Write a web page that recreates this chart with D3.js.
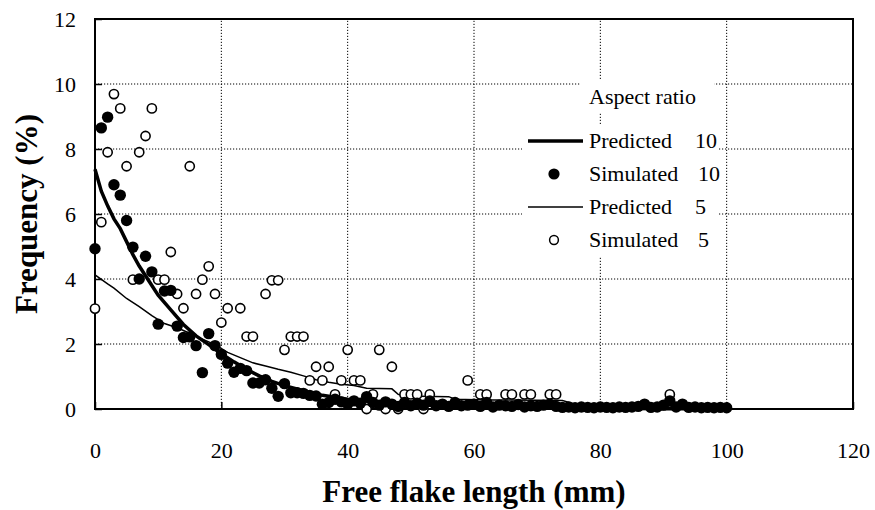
<!DOCTYPE html>
<html>
<head>
<meta charset="utf-8">
<script src="https://cdn.jsdelivr.net/npm/d3@7"></script>
<style>
  body { margin: 0; background: #fff; }
  svg, svg text { font-family: "Liberation Serif", "Times New Roman", serif !important; }
</style>
</head>
<body>
<div id="chart"></div>
<script>
// simulated, aspect ratio 10 (filled dots), x = 0..100 mm
const sim10X = d3.range(0, 101);
const sim10Y = [4.93, 8.65, 8.98, 6.9, 6.58, 5.8, 4.98, 4.0, 4.7, 4.22,
  2.61, 3.63, 3.65, 2.55, 2.2, 2.22, 1.95, 1.12, 2.32, 1.95,
  1.68, 1.41, 1.13, 1.25, 1.18, 0.8, 0.8, 0.9, 0.64, 0.39,
  0.78, 0.5, 0.5, 0.48, 0.42, 0.4, 0.15, 0.2, 0.3, 0.22,
  0.15, 0.25, 0.18, 0.38, 0.2, 0.12, 0.22, 0.15, 0.08, 0.2,
  0.1, 0.18, 0.12, 0.25, 0.1, 0.15, 0.08, 0.2, 0.1, 0.12,
  0.15, 0.08, 0.2, 0.06, 0.12, 0.1, 0.08, 0.14, 0.06, 0.1,
  0.08, 0.12, 0.15, 0.08, 0.05, 0.06, 0.04, 0.06, 0.05, 0.04,
  0.06, 0.05, 0.04, 0.06, 0.05, 0.06, 0.08, 0.15, 0.05, 0.06,
  0.12, 0.25, 0.06, 0.15, 0.05, 0.06, 0.04, 0.05, 0.04, 0.05, 0.04];

// simulated, aspect ratio 5 (open circles)
const sim5X = [0, 1, 2, 3, 4, 5, 6, 7, 8, 9, 10, 11, 12, 13, 14, 15, 16, 17, 18, 19,
  20, 21, 23, 24, 25, 27, 28, 29, 30, 31, 32, 33, 34, 35, 36, 37, 38, 39,
  40, 41, 42, 43, 44, 45, 46, 47, 48, 49, 50, 51, 52, 53, 59, 61, 62, 65, 66,
  68, 69, 72, 73, 91];
const sim5Y = [3.09, 5.75, 7.9, 9.69, 9.25, 7.47, 3.98, 7.9, 8.4, 9.25, 3.98, 3.98,
  4.83, 3.54, 3.1, 7.47, 3.54, 3.98, 4.39, 3.54,
  2.66, 3.1, 3.1, 2.23, 2.23, 3.54, 3.96, 3.96, 1.82, 2.23, 2.23, 2.23, 0.88, 1.3,
  0.88, 1.3, 0.45, 0.88,
  1.82, 0.88, 0.88, 0, 0.45, 1.82, 0, 1.3, 0, 0.45, 0.45, 0.45, 0, 0.45,
  0.88, 0.45, 0.45, 0.45, 0.45, 0.45, 0.45, 0.45, 0.45, 0.45];

// predicted curves
const pred10X = [0, 1, 2, 3, 4, 5, 6, 7, 8, 9, 10, 12, 14, 16, 18, 20, 22, 24, 26, 28,
  30, 33, 36, 40, 45, 50, 55, 60, 70, 80, 90, 100];
const pred10Y = [7.38, 6.7, 6.25, 5.85, 5.55, 5.15, 4.75, 4.4, 4.1, 3.8, 3.5, 3.05,
  2.6, 2.25, 1.98, 1.7, 1.45, 1.22, 1.02, 0.85,
  0.72, 0.56, 0.42, 0.3, 0.2, 0.14, 0.1, 0.07, 0.04, 0.02, 0.01, 0.01];

const pred5X = [0, 2, 3, 5, 7, 9, 11, 13, 15, 17, 19, 21, 23, 25, 27, 29, 31, 33, 35,
  37, 39, 41, 43, 47, 48, 49, 56, 57, 62, 74, 76, 90, 100];
const pred5Y = [4.13, 3.85, 3.72, 3.4, 3.15, 2.87, 2.63, 2.5, 2.33, 2.15, 1.98, 1.74,
  1.58, 1.42, 1.32, 1.22, 1.13, 1.02, 0.9,
  0.82, 0.76, 0.72, 0.64, 0.62, 0.45, 0.4, 0.38, 0.3, 0.28, 0.26, 0.15, 0.1, 0.05];

const xTicks = [0, 20, 40, 60, 80, 100, 120];
const yTicks = [0, 2, 4, 6, 8, 10, 12];

const legendItems = [
  { label: "Predicted", ratio: "10", type: "thick" },
  { label: "Simulated", ratio: "10", type: "filled" },
  { label: "Predicted", ratio: "5", type: "thin" },
  { label: "Simulated", ratio: "5", type: "open" }
];

function init() {
  const width = 875, height = 510;
  const margin = { left: 95, right: 22, top: 19, bottom: 101 };

  const svg = d3.select("#chart").append("svg")
    .attr("width", width)
    .attr("height", height);

  const x = d3.scaleLinear().domain([0, 120]).range([margin.left, width - margin.right]);
  const y = d3.scaleLinear().domain([0, 12]).range([height - margin.bottom, margin.top]);

  // dotted grid
  const grid = svg.append("g")
    .attr("stroke", "#000")
    .attr("stroke-width", 1)
    .attr("stroke-dasharray", "1.2,1.8");
  grid.selectAll(".gx")
    .data(xTicks.slice(1, -1))
    .join("line")
    .attr("x1", d => x(d)).attr("x2", d => x(d))
    .attr("y1", y(0)).attr("y2", y(12));
  grid.selectAll(".gy")
    .data(yTicks.slice(1, -1))
    .join("line")
    .attr("x1", x(0)).attr("x2", x(120))
    .attr("y1", d => y(d)).attr("y2", d => y(d));

  // legend backgrounds hide the grid behind them (title and entries separately)
  svg.append("rect")
    .attr("x", 580).attr("y", 80)
    .attr("width", 134).attr("height", 33)
    .attr("fill", "#fff");
  svg.append("rect")
    .attr("x", 522).attr("y", 124)
    .attr("width", 197).attr("height", 132)
    .attr("fill", "#fff");

  // axes
  const xAxis = svg.append("g")
    .attr("transform", `translate(0,${y(0)})`)
    .call(d3.axisBottom(x).tickValues(xTicks).tickSize(-7).tickPadding(33));
  const yAxis = svg.append("g")
    .attr("transform", `translate(${x(0)},0)`)
    .call(d3.axisLeft(y).tickValues(yTicks).tickSize(-7).tickPadding(19));
  [xAxis, yAxis].forEach(a => {
    a.attr("font-family", null);
    a.select(".domain").remove();
    a.selectAll("line").attr("stroke", "#000").attr("stroke-width", 1.5);
    a.selectAll("text")
      .attr("font-size", 22)
      .attr("fill", "#000");
  });

  // frame
  svg.append("rect")
    .attr("x", x(0)).attr("y", y(12))
    .attr("width", x(120) - x(0)).attr("height", y(0) - y(12))
    .attr("fill", "none")
    .attr("stroke", "#000")
    .attr("stroke-width", 2);

  const line = d3.line().x(d => x(d[0])).y(d => y(d[1]));

  // predicted curves
  svg.append("path")
    .datum(d3.zip(pred5X, pred5Y))
    .attr("d", line)
    .attr("fill", "none")
    .attr("stroke", "#000")
    .attr("stroke-width", 1.5);

  svg.append("path")
    .datum(d3.zip(pred10X, pred10Y))
    .attr("d", line)
    .attr("fill", "none")
    .attr("stroke", "#000")
    .attr("stroke-width", 3.5);

  // simulated points
  svg.append("g").selectAll("circle")
    .data(d3.zip(sim5X, sim5Y))
    .join("circle")
    .attr("cx", d => x(d[0]))
    .attr("cy", d => y(d[1]))
    .attr("r", 4.6)
    .attr("fill", "#fff")
    .attr("stroke", "#000")
    .attr("stroke-width", 1.6);

  svg.append("g").selectAll("circle")
    .data(d3.zip(sim10X, sim10Y))
    .join("circle")
    .attr("cx", d => x(d[0]))
    .attr("cy", d => y(d[1]))
    .attr("r", 5.7)
    .attr("fill", "#000");

  // legend
  const lg = svg.append("g")
    .attr("font-size", 22)
    .attr("fill", "#000");
  lg.append("text")
    .attr("x", 589).attr("y", 104)
    .text("Aspect ratio");

  const rows = lg.selectAll(".row")
    .data(legendItems)
    .join("g")
    .attr("transform", (d, i) => `translate(0,${141 + i * 33})`);
  rows.append("text")
    .attr("x", 589).attr("y", 7)
    .text(d => d.label);
  rows.append("text")
    .attr("x", d => d.label === "Simulated" ? 698 : 695)
    .attr("y", 7)
    .text(d => d.ratio);
  rows.filter(d => d.type === "thick" || d.type === "thin")
    .append("line")
    .attr("x1", 528).attr("x2", 583)
    .attr("stroke", "#000")
    .attr("stroke-width", d => d.type === "thick" ? 3.5 : 1.5);
  rows.filter(d => d.type === "filled")
    .append("circle")
    .attr("cx", 554).attr("r", 5.6)
    .attr("fill", "#000");
  rows.filter(d => d.type === "open")
    .append("circle")
    .attr("cx", 554).attr("r", 4.4)
    .attr("fill", "#fff")
    .attr("stroke", "#000")
    .attr("stroke-width", 1.5);

  // axis titles
  svg.append("text")
    .attr("x", (x(0) + x(120)) / 2)
    .attr("y", 502)
    .attr("text-anchor", "middle")
    .attr("font-size", 31)
    .attr("font-weight", "bold")
    .text("Free flake length (mm)");

  svg.append("text")
    .attr("transform", `translate(37,${(y(0) + y(12)) / 2}) rotate(-90)`)
    .attr("text-anchor", "middle")
    .attr("font-size", 31)
    .attr("font-weight", "bold")
    .text("Frequency (%)");
}

window.onload = init;
</script>
</body>
</html>
